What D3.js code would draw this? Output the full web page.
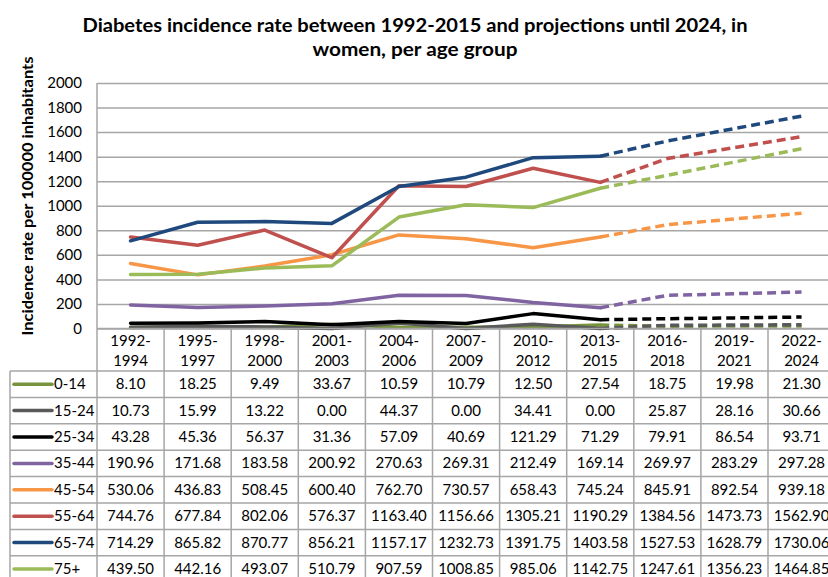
<!DOCTYPE html>
<html><head><meta charset="utf-8">
<script src="https://cdn.jsdelivr.net/npm/d3@7/dist/d3.min.js"></script>
<style>
body{margin:0;background:#fff}
svg{display:block}
text{font-family:Lato,"Open Sans",sans-serif;fill:#000}
</style>
</head><body>
<svg id="chart" width="828" height="577"></svg>
<script>
// ---------- DATA ----------
const categories = ["1992-1994","1995-1997","1998-2000","2001-2003","2004-2006","2007-2009","2010-2012","2013-2015","2016-2018","2019-2021","2022-2024"];
const seriesNames = ["0-14","15-24","25-34","35-44","45-54","55-64","65-74","75+"];
const age0_14  = [8.10,18.25,9.49,33.67,10.59,10.79,12.50,27.54,18.75,19.98,21.30];
const age15_24 = [10.73,15.99,13.22,0.00,44.37,0.00,34.41,0.00,25.87,28.16,30.66];
const age25_34 = [43.28,45.36,56.37,31.36,57.09,40.69,121.29,71.29,79.91,86.54,93.71];
const age35_44 = [190.96,171.68,183.58,200.92,270.63,269.31,212.49,169.14,269.97,283.29,297.28];
const age45_54 = [530.06,436.83,508.45,600.40,762.70,730.57,658.43,745.24,845.91,892.54,939.18];
const age55_64 = [744.76,677.84,802.06,576.37,1163.40,1156.66,1305.21,1190.29,1384.56,1473.73,1562.90];
const age65_74 = [714.29,865.82,870.77,856.21,1157.17,1232.73,1391.75,1403.58,1527.53,1628.79,1730.06];
const age75p   = [439.50,442.16,493.07,510.79,907.59,1008.85,985.06,1142.75,1247.61,1356.23,1464.85];
const yTicks = [0,200,400,600,800,1000,1200,1400,1600,1800,2000];
const lastObserved = "2013-2015";
const titleLines = ["Diabetes incidence rate between 1992-2015 and projections until 2024, in","women, per age group"];
const yTitle = "Incidence rate per 100000 inhabitants";

const seriesValues = [age0_14,age15_24,age25_34,age35_44,age45_54,age55_64,age65_74,age75p];
const series = seriesNames.map((n,i)=>({name:n, values:seriesValues[i]}));

// ---------- STYLE ----------
const colorMap = {"0-14":"#77933C","15-24":"#595959","25-34":"#000000","35-44":"#8064A2","45-54":"#F79646","55-64":"#C0504D","65-74":"#1F497D","75+":"#9BBB59"};
const gridColor = "#A6A6A6";
const fs = 15;

// ---------- LAYOUT ----------
const svg = d3.select("#chart");
const plotLeft = 97, plotTop = 83, plotBottom = 328.5;
const colW = 67.1;
const x = d3.scaleBand().domain(categories).range([plotLeft, plotLeft + colW*categories.length]).padding(0);
const y = d3.scaleLinear().domain([0,2000]).range([plotBottom, plotTop]);
const cx = c => x(c) + x.bandwidth()/2;

// title
const titleWidths = [665, 205];
svg.append("g").selectAll("text").data(titleLines).join("text")
  .attr("x", 415).attr("y",(d,i)=>32+i*24)
  .attr("text-anchor","middle").attr("font-size",19).attr("font-weight",700)
  .attr("textLength",(d,i)=>titleWidths[i]).attr("lengthAdjust","spacingAndGlyphs")
  .text(d=>d);

// y axis with gridlines
const yAxis = d3.axisLeft(y).tickValues(yTicks).tickSize(-(828-plotLeft+20)).tickPadding(15).tickFormat(d3.format("d"));
const ga = svg.append("g").attr("transform",`translate(${plotLeft},0)`).call(yAxis);
ga.select(".domain").remove();
ga.selectAll(".tick line").attr("stroke",gridColor).attr("stroke-width",1.5);
ga.selectAll(".tick text").attr("font-size",fs).attr("font-family","Lato, 'Open Sans', sans-serif").attr("fill","#000");

// y title
svg.append("text").attr("transform",`translate(33,196) rotate(-90)`)
  .attr("text-anchor","middle").attr("font-size",16).attr("font-weight",700)
  .attr("textLength",279).attr("lengthAdjust","spacingAndGlyphs").text(yTitle);

// lines
const splitIdx = categories.indexOf(lastObserved);
const line = d3.line().x(d=>cx(d.c)).y(d=>y(d.v));
const lg = svg.append("g");
series.forEach(s=>{
  const pts = s.values.map((v,i)=>({c:categories[i], v}));
  lg.append("path").attr("d", line(pts.slice(0, splitIdx+1)))
    .attr("fill","none").attr("stroke",colorMap[s.name]).attr("stroke-width",3.5)
    .attr("stroke-linejoin","round").attr("stroke-linecap","round");
  lg.append("path").attr("d", line(pts.slice(splitIdx)))
    .attr("fill","none").attr("stroke",colorMap[s.name]).attr("stroke-width",3.5)
    .attr("stroke-dasharray","9,5").attr("stroke-linejoin","round");
});

// ---------- DATA TABLE ----------
const headerTop = plotBottom, headerBottom = 371, rowH = 26.4;
const legendLeft = 10;
const tableRight = plotLeft + colW*categories.length;
const tg = svg.append("g");
const gl = (x1,y1,x2,y2)=>tg.append("line").attr("x1",x1).attr("y1",y1).attr("x2",x2).attr("y2",y2)
  .attr("stroke",gridColor).attr("stroke-width",1.5);
const tableBottom = headerBottom + rowH*series.length;
gl(plotLeft, plotTop, plotLeft, tableBottom);
gl(plotLeft, headerTop, tableRight, headerTop);
categories.forEach((c,i)=>{ gl(x(c)+colW, headerTop, x(c)+colW, tableBottom); });
for(let r=0;r<=series.length;r++){ gl(legendLeft, headerBottom+r*rowH, tableRight, headerBottom+r*rowH); }
gl(legendLeft, headerBottom, legendLeft, tableBottom);

// header labels
categories.forEach(c=>{
  const parts = c.split("-");
  tg.append("text").attr("x",cx(c)).attr("y",346).attr("text-anchor","middle").attr("font-size",fs).text(parts[0]+"-");
  tg.append("text").attr("x",cx(c)).attr("y",366).attr("text-anchor","middle").attr("font-size",fs).text(parts[1]);
});
// rows
series.forEach((s,r)=>{
  const yc = headerBottom + r*rowH + rowH/2;
  tg.append("line").attr("x1",14).attr("x2",52).attr("y1",yc).attr("y2",yc)
    .attr("stroke",colorMap[s.name]).attr("stroke-width",3.5).attr("stroke-linecap","round");
  tg.append("text").attr("x",54).attr("y",yc+5).attr("font-size",fs).text(s.name);
  s.values.forEach((v,i)=>{
    tg.append("text").attr("x",cx(categories[i])).attr("y",yc+5).attr("text-anchor","middle")
      .attr("font-size",fs).text(d3.format(".2f")(v));
  });
});
</script>
</body></html>
